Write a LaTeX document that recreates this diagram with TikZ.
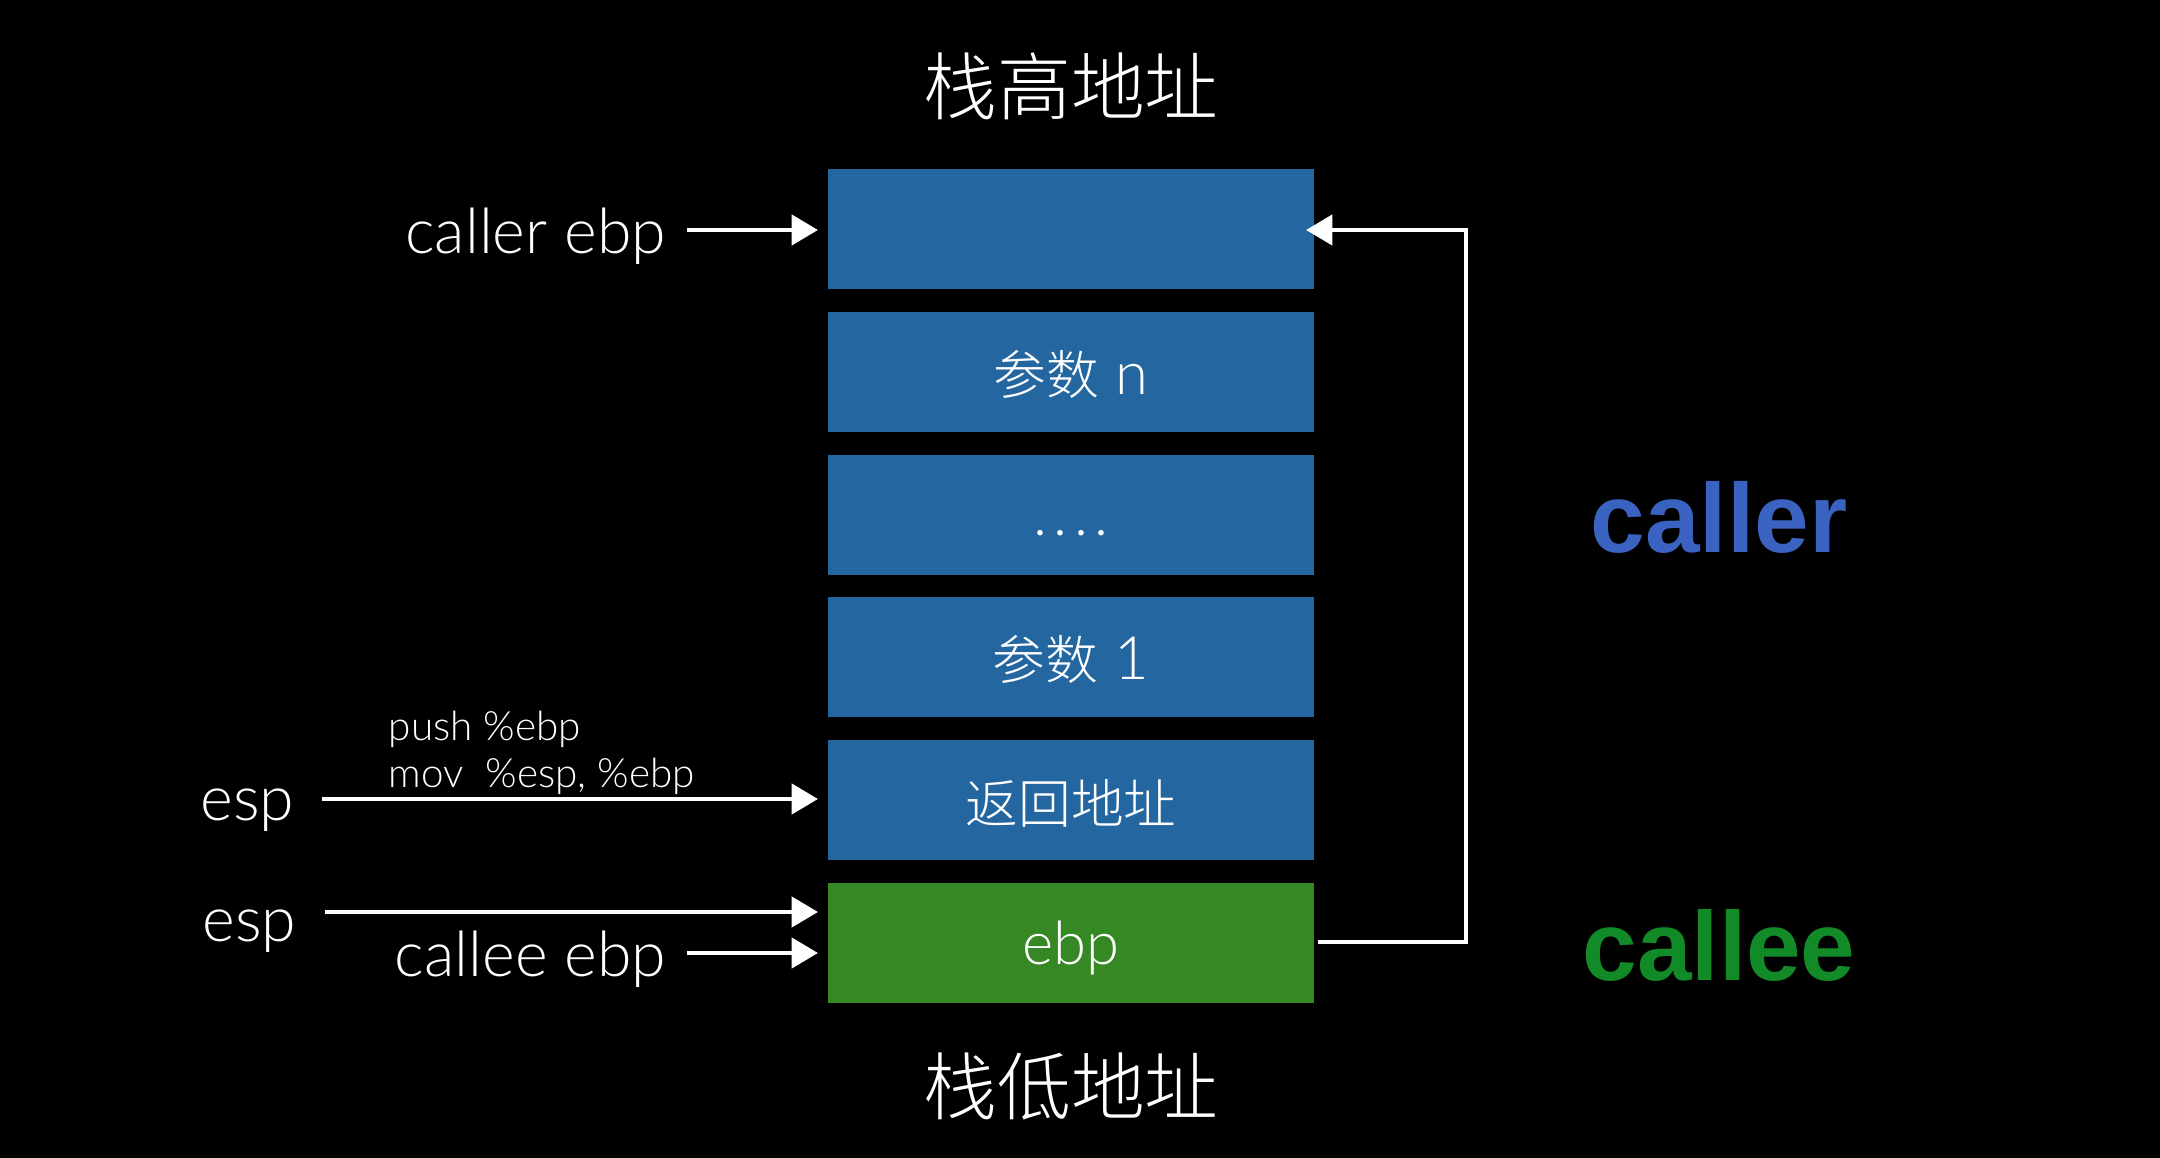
\documentclass[tikz,border=0pt]{standalone}
\usepackage{fontspec}
\IfFontExistsTF{Lato Light}{\newfontfamily\thin{Lato Light}}{\newfontfamily\thin{Liberation Sans}}
\setmainfont{Liberation Sans}
\IfFontExistsTF{Noto Sans CJK SC Light}{\newfontfamily\cjk{Noto Sans CJK SC Light}}{\newfontfamily\cjk{Noto Sans CJK SC}}
\usetikzlibrary{arrows.meta}
\definecolor{boxblue}{RGB}{36,103,160}
\definecolor{boxgreen}{RGB}{53,136,35}
\definecolor{callerblue}{RGB}{58,98,192}
\definecolor{calleegreen}{RGB}{18,138,40}
\begin{document}
\begin{tikzpicture}[x=0.01cm,y=-0.01cm,
  slot/.style={fill=boxblue, minimum width=4.86cm, minimum height=1.2cm,
    inner sep=0pt, outer sep=0pt, text=white},
  greenslot/.style={slot, fill=boxgreen},
  slottext/.style={text=white, inner sep=0pt},
  boxcjk/.style={font=\cjk\fontsize{15}{18}\selectfont},
  lbl/.style={text=white, inner sep=0pt, font=\thin\fontsize{17.8}{20}\selectfont},
  small/.style={text=white, inner sep=0pt, font=\thin\fontsize{11.5}{13}\selectfont},
  title/.style={text=white, inner sep=0pt, font=\cjk\fontsize{21}{25}\selectfont},
  big/.style={inner sep=0pt, font=\bfseries\fontsize{27.9}{32}\selectfont},
  arr/.style={draw=white, line width=1.4pt,
    -{Triangle[length=7.5pt,width=8.5pt]}},
]
\useasboundingbox (0,0) rectangle (2160,1158);
\fill[black] (0,0) rectangle (2160,1158);

% titles
\node[title] (top) at (1071,86) {栈高地址};
\node[title] (bottom) at (1071,1087) {栈低地址};

% stack slots
\node[slot] (s1) at (1071,229) {};
\node[slot] (s2) at (1071,372) {};
\node[slot] (s3) at (1071,515) {};
\node[slot] (s4) at (1071,657) {};
\node[slot] (s5) at (1071,800) {};
\node[greenslot] (s6) at (1071,943) {};

% slot texts
\node[slottext] (t2) at ([yshift=-0.03cm]s2.center) {{\cjk\fontsize{15}{18}\selectfont 参数}\thin\fontsize{17}{20}\selectfont\ n};
\node[slottext, anchor=base, font=\thin\fontsize{17}{20}\selectfont] (t3) at ([yshift=-0.2cm]s3.center) {.\hspace{1.8pt}.\hspace{1.8pt}.\hspace{1.8pt}.};
\node[slottext] (t4) at ([yshift=-0.03cm]s4.center) {{\cjk\fontsize{15}{18}\selectfont 参数}\thin\fontsize{17}{20}\selectfont\ 1};
\node[slottext, boxcjk] (t5) at ([yshift=-0.03cm]s5.center) {返回地址};
\node[slottext, font=\thin\fontsize{17}{20}\selectfont] (t6) at ([yshift=-0.05cm]s6.center) {ebp};

% left labels
\node[lbl, anchor=base east] (callerebp) at (667,254) {caller ebp};
\node[lbl, anchor=base west] (esp1) at (200,820) {esp};
\node[small, anchor=base west] (push) at (388,740) {push \%ebp};
\node[small, anchor=base west] (mov) at (388,787) {mov\ \ \%esp, \%ebp};
\node[lbl, anchor=base west] (esp2) at (202,941) {esp};
\node[lbl, anchor=base east] (calleeebp) at (667,976) {callee ebp};

% right labels
\node[big, text=callerblue, anchor=base] (caller) at (1719,553) {caller};
\node[big, text=calleegreen, anchor=base] (callee) at (1719,980) {callee};

% arrow endpoints
\coordinate (a1s) at (687,230);
\coordinate (a1e) at (818,230);
\coordinate (a2s) at (322,799);
\coordinate (a2e) at (818,799);
\coordinate (a3s) at (325,912);
\coordinate (a3e) at (818,912);
\coordinate (a4s) at (687,953);
\coordinate (a4e) at (818,953);
\coordinate (rs) at (1318,942);
\coordinate (rc) at (1466,942);
\coordinate (re) at (1306,230);

\draw[arr] (a1s) -- (a1e);
\draw[arr] (a2s) -- (a2e);
\draw[arr] (a3s) -- (a3e);
\draw[arr] (a4s) -- (a4e);
\draw[arr] (rs) -- (rc) |- (re);
\end{tikzpicture}
\end{document}
